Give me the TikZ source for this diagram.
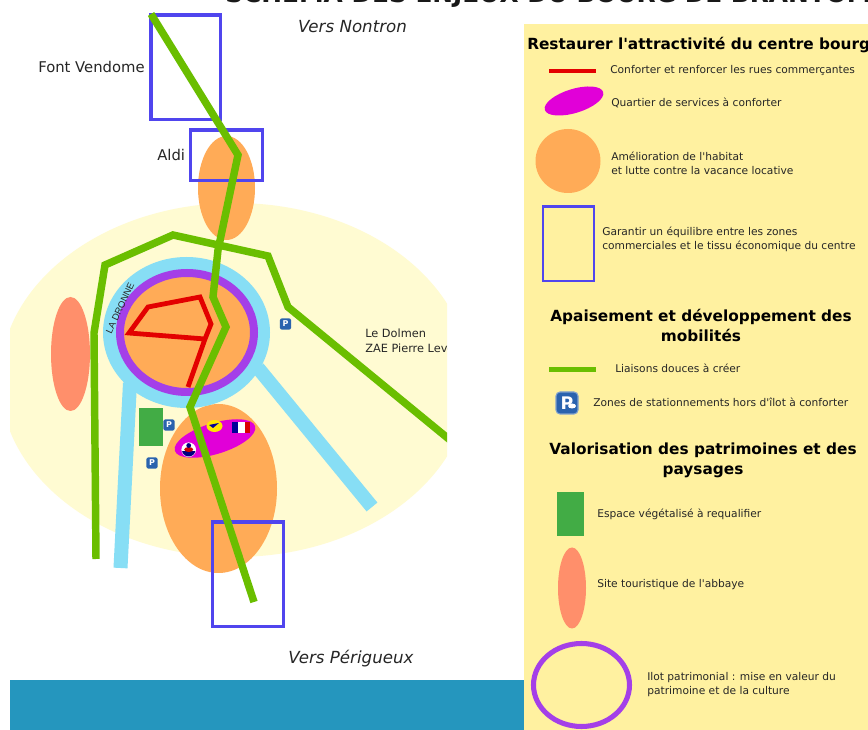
\documentclass[tikz,border=0pt]{standalone}
\usepackage{fontspec}
\setmainfont[Ligatures=TeXOff]{DejaVu Sans}
\newfontfamily\arialish{Liberation Sans}
\definecolor{pale}{HTML}{FFFBD2}
\definecolor{legbg}{HTML}{FFF1A0}
\definecolor{orangez}{HTML}{FFAB57}
\definecolor{bluez}{HTML}{5045EE}
\definecolor{greenl}{HTML}{6ABE00}
\definecolor{river}{HTML}{87DEF5}
\definecolor{purplez}{HTML}{A43FE8}
\definecolor{redz}{HTML}{E30000}
\definecolor{magz}{HTML}{E100D8}
\definecolor{greenz}{HTML}{42AC45}
\definecolor{salmon}{HTML}{FF8F6B}
\definecolor{barblue}{HTML}{2596BE}
\definecolor{parkblue}{HTML}{2A63AE}
\tikzset{x=0.75pt,y=-0.75pt,
 zone/.style={draw=bluez,line width=2.8pt,fill=none},
 soft/.style={draw=greenl,line width=5.6pt,line join=miter,fill=none},
 rue/.style={draw=redz,line width=3.6pt,line join=miter},
 rv/.style={draw=river,line width=10.5pt},
 maplabel/.style={font=\fontsize{11.1pt}{13pt}\selectfont,text=black!85,inner sep=0pt,anchor=west},
 vers/.style={font=\fontsize{12.5pt}{15pt}\selectfont\itshape,text=black!85,inner sep=0pt},
 legtxt/.style={font=\fontsize{8pt}{10.6pt}\selectfont,text=black!85,inner sep=0pt,anchor=west,align=left},
 leghead/.style={font=\fontsize{11.5pt}{15.2pt}\selectfont\bfseries,text=black,inner sep=0pt,align=center},
 parkbox/.style={fill=parkblue,rounded corners=1.5pt,minimum width=8.4pt,minimum height=8.4pt,inner sep=0pt,text=white,font=\fontsize{6pt}{6pt}\selectfont\bfseries}
}
\begin{document}
\begin{tikzpicture}
\useasboundingbox (0,0) rectangle (868,730);
\fill[white] (0,0) rectangle (868,730);
\begin{scope}
\clip (0,0) rectangle (868,730);
\node[font=\fontsize{18.6pt}{23pt}\selectfont\bfseries,text=black!90,inner sep=0pt,anchor=base west] (title) at (225,3) {SCHÉMA DES ENJEUX DU BOURG DE BRANTÔME};
\end{scope}
% bar and legend ground
\fill[barblue] (10,680) rectangle (524,730);
\fill[legbg] (524,24) rectangle (868,730);
% map
\begin{scope}
\clip (10,100) rectangle (447,640);
\fill[pale] (235,380) ellipse (235 and 177);
\end{scope}
\fill[salmon] (70.5,354) ellipse (19.5 and 57);
\fill[orangez] (226.5,188) ellipse (28.5 and 52);
\fill[orangez] (218.5,488.5) ellipse (58.5 and 84.5);
\begin{scope}
\clip (10,100) rectangle (447,640);
\draw[rv] (130,383) -- (120.5,568);
\draw[rv] (258,368) -- (372,507);
\end{scope}
\fill[river] (186.5,332.5) ellipse (83.5 and 75.5);
\fill[orangez] (187,332.5) ellipse (67 and 59.5);
\draw[purplez,line width=6pt] (187,332.5) ellipse (67 and 59.5);
\node[rotate=65,font=\arialish\fontsize{7pt}{8pt}\selectfont,text=black!85,inner sep=0pt] (dronne) at (120,308) {LA DRONNE};
\fill[greenz] (139,408) rectangle (163,446);
% services
\fill[magz,rotate around={17:(215,438.5)}] (215,438.5) ellipse (42 and 15.5);
\fill[white] (188.7,449.7) circle (7.3);
\begin{scope}
\clip (188.7,449.7) circle (6.8);
\fill[blue!50!black] (182,451) rectangle (196,458);
\fill[red!80!black] (188.7,449.5) ellipse (4.5 and 2.5);
\fill[blue!50!black] (188.7,445.5) circle (2.4);
\end{scope}
\fill[yellow!90!orange] (214.5,426) ellipse (8 and 6);
\fill[blue!60!black] (209,425) -- (219,423) -- (213,428) -- cycle;
\fill[white] (232,422) rectangle (250,433);
\fill[blue!60!black] (232,422) rectangle (238,433);
\fill[red!85!black] (245,422) rectangle (250,433);
% parking
\node[parkbox] (p1) at (285.5,324) {P};
\node[parkbox] (p2) at (169,425) {P};
\node[parkbox] (p3) at (152,463) {P};
% red streets
\draw[rue] (188,387) -- (205,339) -- (129,333) -- (148,307) -- (200,297) -- (211,324) -- (205,339);
% blue zones
\draw[zone] (151,15) rectangle (220.5,119.5);
\draw[zone] (190.5,130) rectangle (262.5,180.5);
\draw[zone] (212.5,522) rectangle (283.5,626.5);
% green links
\begin{scope}
\clip (10,0) rectangle (447,640);
\draw[soft] (151,14) -- (238,155) -- (218,250) -- (213,297) -- (226,327) -- (190,407) -- (254,602);
\draw[soft] (96,559) -- (94,333) -- (105,265) -- (173,235) -- (268,256) -- (288,307) -- (450,440);
\end{scope}
% map labels
\node[maplabel] (fv) at (38,67) {Font Vendome};
\node[maplabel] (aldi) at (157,155) {Aldi};
\node[vers] (vn) at (352.5,27) {Vers Nontron};
\node[vers] (vp) at (351,659) {Vers Périgueux};
\begin{scope}
\clip (10,300) rectangle (447,370);
\node[font=\fontsize{8.5pt}{11.3pt}\selectfont,text=black!85,inner sep=0pt,anchor=west,align=left] (zae) at (365,341) {Le Dolmen\\ZAE Pierre Levée};
\end{scope}
% legend
\begin{scope}
\clip (524,24) rectangle (868,730);
\node[font=\fontsize{11.5pt}{15pt}\selectfont\bfseries,text=black,inner sep=0pt,anchor=west] (h1) at (527,45) {Restaurer l'attractivité du centre bourg};
\end{scope}
\draw[redz,line width=2.3pt] (549,71) -- (596,71);
\node[legtxt] (t1) at (610,70) {Conforter et renforcer les rues commerçantes};
\fill[magz,rotate around={17:(574,101)}] (574,101) ellipse (30.5 and 12);
\node[legtxt] (t2) at (611,103) {Quartier de services à conforter};
\fill[orangez] (568,161) ellipse (32.5 and 32);
\node[legtxt] (t3) at (611,163) {Amélioration de l'habitat\\et lutte contre la vacance locative};
\draw[zone,line width=2.2pt] (543,206.5) rectangle (594,281);
\node[legtxt] (t4) at (602,239.5) {Garantir un équilibre entre les zones\\commerciales et le tissu économique du centre};
\node[leghead] (h2) at (701,325.5) {Apaisement et développement des\\mobilités};
\draw[greenl,line width=4pt] (549,369.5) -- (596,369.5);
\node[legtxt] (t5) at (615,368) {Liaisons douces à créer};
\node[fill=parkblue,draw=parkblue!60,line width=0.8pt,rounded corners=3pt,minimum width=16.5pt,minimum height=16.5pt,inner sep=0pt,text=white,font=\fontsize{13pt}{13pt}\selectfont\bfseries] (p4) at (567,403) {P};
\fill[white] (572,406) ellipse (4 and 2.5);
\node[legtxt] (t6) at (593,402.5) {Zones de stationnements hors d'îlot à conforter};
\node[leghead] (h3) at (703,460.5) {Valorisation des patrimoines et des\\paysages};
\fill[greenz] (557,492) rectangle (584,536);
\node[legtxt] (t7) at (597,514) {Espace végétalisé à requalifier};
\fill[salmon] (572,588) ellipse (14 and 40.5);
\node[legtxt] (t8) at (597,584.5) {Site touristique de l'abbaye};
\draw[purplez,line width=3.8pt] (581.5,685) ellipse (48 and 41.5);
\node[legtxt] (t9) at (647,684.5) {Ilot patrimonial : mise en valeur du\\patrimoine et de la culture};
\end{tikzpicture}
\end{document}
